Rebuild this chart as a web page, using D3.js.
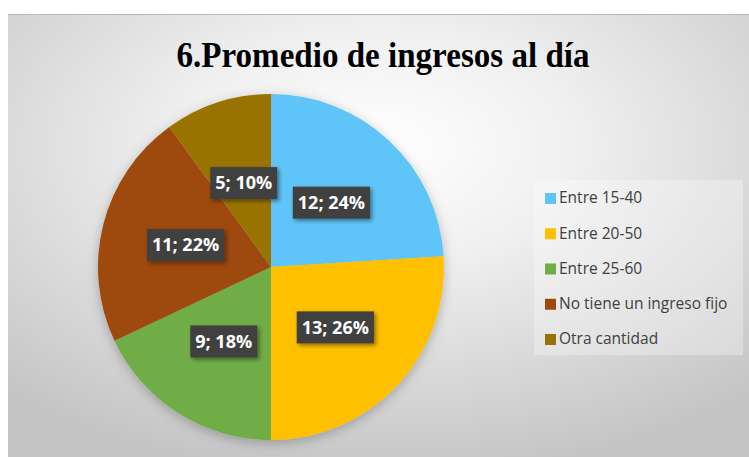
<!DOCTYPE html>
<html lang="es">
<head>
  <meta charset="UTF-8">
  <title>Promedio de ingresos al día</title>
  <script src="https://d3js.org/d3.v7.min.js"></script>
  <style>
    body { margin: 0; background: #fff; }
    .title { font-family: "Liberation Serif", serif; font-weight: bold; font-size: 36px; fill: #000; }
    .lbl { font-family: "Open Sans", sans-serif; font-weight: bold; font-size: 18px; fill: #fff; }
    .leg { font-family: "Open Sans", sans-serif; font-size: 15.5px; fill: #404040; }
  </style>
</head>
<body>
  <svg width="749" height="457"></svg>

  <script>
    // data
    const categories = ["Entre 15-40", "Entre 20-50", "Entre 25-60", "No tiene un ingreso fijo", "Otra cantidad"];
    const values = [12, 13, 9, 11, 5];
    const colors = ["#5FC5F8", "#FFC000", "#70AD47", "#9E480E", "#997300"];

    const svg = d3.select("svg");
    const defs = svg.append("defs");

    // background gradient
    const grad = defs.append("radialGradient")
      .attr("id", "bg")
      .attr("cx", "0.5").attr("cy", "0.3").attr("r", "0.75");
    grad.append("stop").attr("offset", "0").attr("stop-color", "#ffffff");
    grad.append("stop").attr("offset", "0.35").attr("stop-color", "#f0f0f0");
    grad.append("stop").attr("offset", "1").attr("stop-color", "#c4c4c4");

    const shadow = defs.append("filter").attr("id", "shadow")
      .attr("x", "-20%").attr("y", "-20%").attr("width", "150%").attr("height", "150%");
    shadow.append("feDropShadow").attr("dx", 2).attr("dy", 2).attr("stdDeviation", 2)
      .attr("flood-color", "#000").attr("flood-opacity", 0.45);

    const pieShadow = defs.append("filter").attr("id", "pshadow")
      .attr("x", "-20%").attr("y", "-20%").attr("width", "140%").attr("height", "140%");
    pieShadow.append("feDropShadow").attr("dx", 0).attr("dy", 3).attr("stdDeviation", 6)
      .attr("flood-color", "#000").attr("flood-opacity", 0.25);

    svg.append("rect")
      .attr("x", 8).attr("y", 14).attr("width", 741).attr("height", 443)
      .attr("fill", "url(#bg)");
    svg.append("line")
      .attr("x1", 8).attr("x2", 749).attr("y1", 14.5).attr("y2", 14.5)
      .attr("stroke", "#b8b8b8").attr("stroke-width", 1);

    // title
    svg.append("text")
      .attr("class", "title")
      .attr("x", 383).attr("y", 67)
      .attr("text-anchor", "middle")
      .attr("textLength", 413)
      .attr("lengthAdjust", "spacingAndGlyphs")
      .text("6.Promedio de ingresos al día");

    // pie
    const cx = 271, cy = 267, r = 173;
    const g = svg.append("g").attr("transform", `translate(${cx},${cy})`);
    const pie = d3.pie().sort(null).value(d => d);
    const arcs = pie(values);
    const arc = d3.arc().innerRadius(0).outerRadius(r);
    const labelArc = d3.arc().innerRadius(r * 0.51).outerRadius(r * 0.51);
    const total = d3.sum(values);

    g.append("g").attr("filter", "url(#pshadow)")
      .selectAll("path")
      .data(arcs)
      .join("path")
      .attr("d", arc)
      .attr("fill", (d, i) => colors[i]);

    // data labels
    const labels = g.selectAll(".lg")
      .data(arcs)
      .join("g")
      .attr("class", "lg")
      .attr("transform", d => `translate(${labelArc.centroid(d)})`);

    labels.append("text")
      .attr("class", "lbl")
      .attr("text-anchor", "middle")
      .attr("dy", "0.35em")
      .text(d => `${d.data}; ${Math.round(d.data / total * 100)}%`)
      .each(function() {
        const bb = this.getBBox();
        d3.select(this.parentNode).insert("rect", "text")
          .attr("x", bb.x - 5).attr("y", -16)
          .attr("width", bb.width + 10).attr("height", 32)
          .attr("fill", "#404040")
          .attr("filter", "url(#shadow)");
      });

    // legend
    const legY = d3.scalePoint().domain(categories).range([198, 339]);
    svg.append("rect")
      .attr("x", 534).attr("y", 180).attr("width", 209).attr("height", 175)
      .attr("fill", "#ffffff").attr("fill-opacity", 0.3);

    const leg = svg.selectAll(".legitem")
      .data(categories)
      .join("g")
      .attr("class", "legitem")
      .attr("transform", d => `translate(545,${legY(d)})`);
    leg.append("rect")
      .attr("x", 0).attr("y", -5).attr("width", 11).attr("height", 11)
      .attr("fill", (d, i) => colors[i]);
    leg.append("text")
      .attr("class", "leg")
      .attr("x", 14).attr("dy", "0.35em")
      .text(d => d);
  </script>
</body>
</html>
